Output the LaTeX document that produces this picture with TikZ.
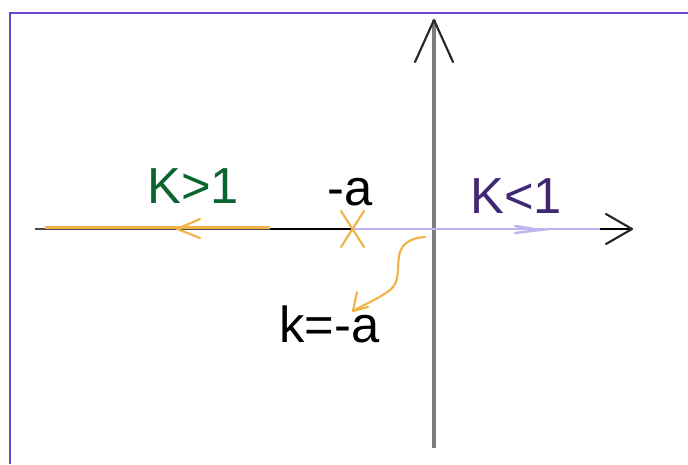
\documentclass[tikz,border=0pt]{standalone}
\usepackage{fontspec}
\setmainfont{Liberation Sans}
\definecolor{frame}{RGB}{110,70,210}
\definecolor{axgray}{RGB}{125,125,125}
\definecolor{orng}{RGB}{240,180,70}
\definecolor{lav}{RGB}{190,180,240}
\definecolor{dgreen}{RGB}{10,100,45}
\definecolor{dpurple}{RGB}{65,40,115}
\begin{document}
\begin{tikzpicture}[x=0.75pt,y=-0.75pt,
  lbl/.style={inner sep=0pt,anchor=base west,font=\fontsize{38}{40}\selectfont},
  vhead/.style={line width=1.6pt,line cap=round,line join=round},
  orl/.style={orng,line width=1.6pt,line cap=round,line join=round},
  ]
\useasboundingbox[fill=white] (0,0) rectangle (688,464);
% frame
\draw[frame,line width=2pt] (10,464) -- (10,13) -- (688,13);
% coordinates
\coordinate (L) at (35,229);
\coordinate (O) at (434,229);
\coordinate (R) at (632,229);
\coordinate (T) at (434,20);
\coordinate (B) at (434,448);
\coordinate (Z) at (352,229);
% vertical axis
\draw[axgray,line width=2.6pt] (B) -- (T);
\draw[black!85,vhead] (415,62) -- (T) -- (453,62);
% horizontal axis
\draw[black!70,line width=2pt] (L) -- (270,229);
\draw[black,line width=2pt] (270,229) -- (Z);
\draw[lav,line width=2pt] (Z) -- (600,229);
\draw[black,line width=1.8pt] (600,229) -- (R);
\draw[black!85,vhead] (606,214) -- (R) -- (606,244);
\draw[orng,line width=2.2pt] (45,227.6) -- (270,227.6);
% left orange arrow
\draw[orl] (200,219) -- (177,229) -- (200,238);
% right lavender arrow
\draw[lav,line width=1.8pt,line cap=round] (515,226) -- (540,230) -- (515,233);
% X marker
\draw[orl] (341,211) -- (364,247) (364,211) -- (341,247);
% labels
\node[lbl,text=dgreen] (kg) at (147,203) {K>1};
\node[lbl] (ma) at (327,205) {-a};
\node[lbl,text=dpurple] (kl) at (470,213) {K<1};
\node[lbl] (ka) at (279,342) {k=-a};
% squiggle arrow
\draw[orl]
  (425,237) .. controls (410,238) and (401,244) .. (399,256)
  .. controls (397,270) and (400,282) .. (390,290)
  .. controls (380,298) and (365,304) .. (353,311);
\draw[orl] (357,292) -- (353,311) -- (368,307);
\end{tikzpicture}
\end{document}
